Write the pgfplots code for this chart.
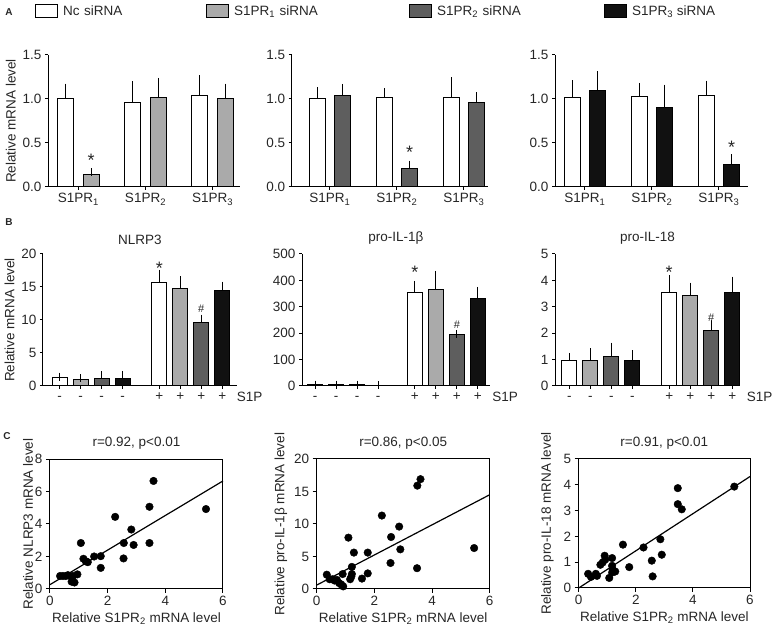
\documentclass[border=0pt]{standalone}
\usepackage{pgfplots}
\pgfplotsset{compat=1.18}
\usepackage{fontspec}
\setmainfont{Liberation Sans}
\definecolor{lg}{HTML}{AAAAAA}
\definecolor{dg}{HTML}{5E5E5E}
\definecolor{bk}{HTML}{111111}
\definecolor{tx}{HTML}{262626}
\newcommand{\fsz}{\fontsize{13.5}{16}\selectfont}
\pgfplotsset{
  base/.style={scale only axis, clip=false,
    axis line style={line width=1pt, black},
    tick style={line width=1pt, black},
    tick align=outside, major tick length=4pt,
    tick label style={font=\fsz, text=tx},
    label style={font=\fsz, text=tx},
    title style={font=\fsz, text=tx},
    /pgf/number format/assume math mode=true},
  barax/.style={base, axis x line*=bottom, axis y line*=left, ymin=0},
  aax/.style={barax, height=132pt, ymax=1.5, ytick={0,0.5,1,1.5},
    yticklabel style={/pgf/number format/.cd, fixed, fixed zerofill, precision=1},
    xtick={0,1,2}, major tick length=3pt,
    xticklabels={S1PR\textsubscript{1}, S1PR\textsubscript{2}, S1PR\textsubscript{3}}},
  bax/.style={barax, height=132pt, xtick={0,1,2,3,4.75,5.75,6.75,7.75},
    xticklabels={-,-,-,-,+,+,+,+}, major tick length=3pt,
    xticklabel style={text height=8pt, text depth=0pt}},
  bp/.style={ybar, bar width=#1, bar shift=0pt, draw=black, line width=1pt,
    /pgfplots/error bars/y dir=plus, /pgfplots/error bars/y explicit,
    /pgfplots/error bars/error bar style={line width=1pt, black},
    /pgfplots/error bars/error mark options={line width=1pt, black, mark size=4pt},
    /pgfplots/legend image code/.code={\draw[##1, line width=1pt] (0pt,-6.5pt) rectangle (22pt,6.5pt);}},
  sax/.style={base, width=173pt, height=130pt, xmin=0, xmax=6, ymin=0,
    xtick={0,2,4,6}, xtick pos=left, ytick pos=left,
    xlabel={Relative S1PR\textsubscript{2} mRNA level}},
  dots/.style={only marks, mark=*, mark size=3.8pt, black},
  fit/.style={line width=1.2pt, black},
}
\newcommand{\astk}[1]{\node[font=\fontsize{18}{18}\selectfont, text=tx] at (axis cs:#1) {*};}
\newcommand{\hashk}[1]{\node[font=\fontsize{11}{12}\selectfont, text=tx] at (axis cs:#1) {\#};}
\newcommand{\sip}{\node[anchor=base west, font=\fsz, text=tx, xshift=11pt, yshift=-16pt] at (axis cs:7.75,0) {S1P};}
\begin{document}
\begin{tikzpicture}
\useasboundingbox (0pt,0pt) rectangle (772pt,629pt);
\node[font=\bfseries\fontsize{10}{12}\selectfont, text=tx] at (9pt,617pt) {A};
\node[font=\bfseries\fontsize{10}{12}\selectfont, text=tx] at (9pt,407pt) {B};
\node[font=\bfseries\fontsize{10}{12}\selectfont, text=tx] at (7pt,193pt) {C};

% ---------- Row A ----------
\begin{axis}[aax, at={(48pt,442pt)}, anchor=south west, width=192pt, xmin=-0.455, xmax=2.41,
  ylabel={Relative mRNA level},
  legend style={at={(axis description cs:-0.0677,1.33)}, anchor=west, draw=none, fill=none,
    font=\fsz, text=tx, legend columns=4, inner sep=0pt,
    /tikz/every odd column/.style={column sep=3pt}},
  legend cell align=left]
\addplot[bp=16pt, fill=white] coordinates {(-0.19,1.01)+-(0,0.12) (0.81,0.957)+-(0,0.20) (1.81,1.044)+-(0,0.18)};
\addlegendentry[text width=141pt]{Nc siRNA}
\addplot[bp=16pt, fill=lg] coordinates {(0.19,0.14)+-(0,0.025) (1.19,1.014)+-(0,0.18) (2.19,1.0)+-(0,0.13)};
\addlegendentry[text width=173pt]{S1PR\textsubscript{1} siRNA}
\addlegendimage{bp=16pt, fill=dg}
\addlegendentry[text width=165pt]{S1PR\textsubscript{2} siRNA}
\addlegendimage{bp=16pt, fill=bk}
\addlegendentry{S1PR\textsubscript{3} siRNA}
\astk{0.19,0.30}
\end{axis}

\begin{axis}[aax, at={(291.7pt,442pt)}, anchor=south west, width=196.3pt, xmin=-0.57, xmax=2.36]
\addplot[bp=16pt, fill=white] coordinates {(-0.19,1.01)+-(0,0.08) (0.81,1.014)+-(0,0.06) (1.81,1.014)+-(0,0.19)};
\addplot[bp=16pt, fill=dg] coordinates {(0.19,1.037)+-(0,0.09) (1.19,0.21)+-(0,0.045) (2.19,0.957)+-(0,0.076)};
\astk{1.19,0.39}
\end{axis}

\begin{axis}[aax, at={(555pt,442pt)}, anchor=south west, width=193pt, xmin=-0.445, xmax=2.436]
\addplot[bp=16pt, fill=white] coordinates {(-0.19,1.015)+-(0,0.15) (0.81,1.03)+-(0,0.107) (1.81,1.042)+-(0,0.122)};
\addplot[bp=16pt, fill=bk] coordinates {(0.19,1.10)+-(0,0.17) (1.19,0.908)+-(0,0.21) (2.19,0.26)+-(0,0.064)};
\astk{2.19,0.45}
\end{axis}

% ---------- Row B ----------
\begin{axis}[bax, at={(43pt,243pt)}, anchor=south west, width=194pt, xmin=-0.786, xmax=8.45,
  ymax=20, ytick={0,5,10,15,20}, ylabel={Relative mRNA level}, title={NLRP3}]
\addplot[bp=15pt, fill=white] coordinates {(0,1.3)+-(0,0.12) (4.75,15.67)+-(0,1.33)};
\addplot[bp=15pt, fill=lg] coordinates {(1,1.05)+-(0,0.15) (5.75,14.8)+-(0,1.2)};
\addplot[bp=15pt, fill=dg] coordinates {(2,1.2)+-(0,0.45) (6.75,9.6)+-(0,0.6)};
\addplot[bp=15pt, fill=bk] coordinates {(3,1.2)+-(0,0.5) (7.75,14.4)+-(0,0.8)};
\astk{4.75,17.9}
\hashk{6.75,11.7}
\sip
\end{axis}

\begin{axis}[bax, at={(302pt,243pt)}, anchor=south west, width=188pt, xmin=-0.62, xmax=8.33,
  ymax=500, ytick={0,100,...,500}, title={pro-IL-1β}]
\addplot[bp=15pt, fill=white] coordinates {(0,4)+-(0,1.5) (4.75,356)+-(0,27)};
\addplot[bp=15pt, fill=lg] coordinates {(1,4)+-(0,1.5) (5.75,365)+-(0,56)};
\addplot[bp=15pt, fill=dg] coordinates {(2,4)+-(0,1.5) (6.75,194)+-(0,3)};
\addplot[bp=15pt, fill=bk] coordinates {(3,1)+-(0,1) (7.75,332)+-(0,28)};
\astk{4.75,432}
\hashk{6.75,231}
\sip
\end{axis}

\begin{axis}[bax, at={(555pt,243pt)}, anchor=south west, width=185pt, xmin=-0.69, xmax=8.12,
  ymax=5, ytick={0,1,...,5}, title={pro-IL-18}]
\addplot[bp=15pt, fill=white] coordinates {(0,0.95)+-(0,0.15) (4.75,3.54)+-(0,0.51)};
\addplot[bp=15pt, fill=lg] coordinates {(1,0.95)+-(0,0.32) (5.75,3.42)+-(0,0.34)};
\addplot[bp=15pt, fill=dg] coordinates {(2,1.10)+-(0,0.39) (6.75,2.09)+-(0,0.25)};
\addplot[bp=15pt, fill=bk] coordinates {(3,0.97)+-(0,0.23) (7.75,3.54)+-(0,0.45)};
\astk{4.75,4.32}
\hashk{6.75,2.6}
\sip
\end{axis}

% ---------- Row C ----------
\begin{axis}[sax, at={(50pt,40pt)}, anchor=south west, ymax=8, ytick={0,2,...,8},
  ylabel shift=-5pt,
  ylabel={Relative NLRP3 mRNA level}, title={r=0.92, p<0.01}]
\addplot[dots] coordinates {(0.35,0.80) (0.45,0.80) (0.55,0.80) (0.62,0.85) (0.70,0.80) (0.75,0.45)
  (0.80,0.80) (0.85,0.40) (0.95,0.90) (1.07,2.83) (1.16,1.86) (1.24,1.71) (1.31,1.65) (1.53,2.0)
  (1.76,2.02) (1.76,1.30) (2.26,4.44) (2.56,2.83) (2.55,1.88) (2.82,3.66) (2.90,2.71) (3.45,5.06)
  (3.45,2.83) (3.59,6.65) (5.41,4.92)};
\addplot[fit] coordinates {(0,0.27) (6,6.65)};
\end{axis}

\begin{axis}[sax, at={(316.7pt,40pt)}, anchor=south west, ymax=20, ytick={0,5,...,20},
  ylabel={Relative pro-IL-1β mRNA level}, title={r=0.86, p<0.05}]
\addplot[dots] coordinates {(0.35,2.2) (0.45,1.5) (0.55,1.5) (0.62,1.3) (0.70,1.4) (0.78,0.9)
  (0.85,0.7) (0.92,0.4) (0.90,2.3) (1.10,7.9) (1.16,1.5) (1.20,1.9) (1.22,2.3) (1.22,3.4)
  (1.29,5.6) (1.57,1.6) (1.77,5.6) (1.77,2.4) (2.26,11.3) (2.58,8.0) (2.56,4.0) (2.86,9.6)
  (2.90,6.1) (3.48,3.2) (3.49,15.9) (3.60,16.9) (5.46,6.3)};
\addplot[fit] coordinates {(0,0.6) (6,14.5)};
\end{axis}

\begin{axis}[sax, at={(578.7pt,41pt)}, anchor=south west, width=171.3pt, height=129pt, ymax=5, ytick={0,1,...,5},
  ylabel shift=3pt,
  ylabel={Relative pro-IL-18 mRNA level}, title={r=0.91, p<0.01}]
\addplot[dots] coordinates {(0.33,0.55) (0.43,0.43) (0.60,0.55) (0.64,0.47) (0.76,0.90) (0.84,0.99)
  (0.91,1.25) (0.93,1.10) (1.07,0.39) (1.17,1.16) (1.17,0.86) (1.19,0.71) (1.24,0.64) (1.28,0.64)
  (1.17,0.60) (1.55,1.68) (1.77,0.81) (2.27,1.57) (2.56,1.06) (2.59,0.45) (2.86,1.89) (2.91,1.29)
  (3.47,3.87) (3.47,3.25) (3.61,3.05) (5.45,3.93)};
\addplot[fit] coordinates {(0,0) (6,4.32)};
\end{axis}
\end{tikzpicture}
\end{document}
